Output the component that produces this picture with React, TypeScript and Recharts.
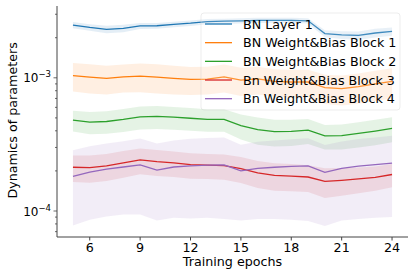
import React from 'react';
import { ComposedChart, Line, Area, XAxis, YAxis } from 'recharts';

const epochs = [5, 6, 7, 8, 9, 10, 11, 12, 13, 14, 15, 16, 17, 18, 19, 20, 21, 22, 23, 24];

const seriesNames = [
  'BN Layer 1',
  'BN Weight&Bias Block 1',
  'BN Weight&Bias Block 2',
  'Bn Weight&Bias Block 3',
  'Bn Weight&Bias Block 4',
];
const seriesColors = ['#1f77b4', '#ff7f0e', '#2ca02c', '#d62728', '#9467bd'];

// mean and spread per epoch
const layer1Mean = [2.49e-3, 2.39e-3, 2.31e-3, 2.35e-3, 2.45e-3, 2.46e-3, 2.52e-3, 2.57e-3, 2.64e-3, 2.66e-3, 2.68e-3, 2.7e-3, 2.7e-3, 2.7e-3, 2.68e-3, 2.15e-3, 2.1e-3, 2.08e-3, 2.17e-3, 2.23e-3];
const layer1Std = [1.3e-4, 1.3e-4, 1.5e-4, 1.5e-4, 1.3e-4, 1.2e-4, 1.2e-4, 1.2e-4, 1.2e-4, 1.2e-4, 1.2e-4, 1.2e-4, 1.2e-4, 1.2e-4, 1.2e-4, 1.3e-4, 1.4e-4, 1.5e-4, 1.6e-4, 1.6e-4];

const block1Mean = [1.04e-3, 1.012e-3, 0.99e-3, 1.017e-3, 1.03e-3, 1.012e-3, 0.99e-3, 0.973e-3, 0.978e-3, 1.017e-3, 0.96e-3, 0.98e-3, 0.94e-3, 0.93e-3, 0.93e-3, 0.845e-3, 0.83e-3, 0.858e-3, 0.9e-3, 0.94e-3];
const block1Std = [2.5e-4, 2.5e-4, 2.4e-4, 2.4e-4, 2.5e-4, 2.5e-4, 2.4e-4, 2.3e-4, 2.3e-4, 2.4e-4, 2.3e-4, 2.3e-4, 2.2e-4, 2.2e-4, 2.2e-4, 2.1e-4, 2.1e-4, 2.2e-4, 2.3e-4, 2.4e-4];

const block2Mean = [4.81e-4, 4.65e-4, 4.7e-4, 4.87e-4, 5.09e-4, 5.13e-4, 5.06e-4, 4.97e-4, 4.87e-4, 4.87e-4, 4.37e-4, 4.09e-4, 3.95e-4, 3.96e-4, 4.05e-4, 3.66e-4, 3.68e-4, 3.82e-4, 3.98e-4, 4.17e-4];
const block2Std = [0.86e-4, 0.88e-4, 0.9e-4, 0.95e-4, 1.0e-4, 1.0e-4, 0.98e-4, 0.96e-4, 0.94e-4, 0.93e-4, 0.93e-4, 0.94e-4, 0.9e-4, 0.88e-4, 0.86e-4, 0.76e-4, 0.78e-4, 0.82e-4, 0.86e-4, 0.89e-4];

const block3Mean = [2.13e-4, 2.12e-4, 2.18e-4, 2.3e-4, 2.42e-4, 2.35e-4, 2.3e-4, 2.23e-4, 2.21e-4, 2.19e-4, 2.08e-4, 1.93e-4, 1.85e-4, 1.83e-4, 1.8e-4, 1.67e-4, 1.7e-4, 1.74e-4, 1.79e-4, 1.88e-4];
const block3Std = [0.48e-4, 0.49e-4, 0.5e-4, 0.52e-4, 0.53e-4, 0.52e-4, 0.5e-4, 0.48e-4, 0.47e-4, 0.47e-4, 0.46e-4, 0.44e-4, 0.43e-4, 0.42e-4, 0.41e-4, 0.42e-4, 0.4e-4, 0.38e-4, 0.37e-4, 0.37e-4];

const block4Mean = [1.82e-4, 1.96e-4, 2.06e-4, 2.14e-4, 2.22e-4, 2.03e-4, 2.14e-4, 2.18e-4, 2.21e-4, 2.22e-4, 2.0e-4, 2.09e-4, 2.13e-4, 2.16e-4, 2.18e-4, 1.95e-4, 2.09e-4, 2.17e-4, 2.23e-4, 2.29e-4];
const block4Std = [1.04e-4, 1.1e-4, 1.15e-4, 1.2e-4, 1.28e-4, 1.18e-4, 1.25e-4, 1.3e-4, 1.32e-4, 1.35e-4, 1.15e-4, 1.22e-4, 1.26e-4, 1.3e-4, 1.34e-4, 1.18e-4, 1.24e-4, 1.3e-4, 1.34e-4, 1.39e-4];

const xTicks = [6, 9, 12, 15, 18, 21, 24];
const yTicks = [7e-5, 8e-5, 9e-5, 1e-4, 2e-4, 3e-4, 4e-4, 5e-4, 6e-4, 7e-4, 8e-4, 9e-4, 1e-3, 2e-3, 3e-3];

const means = [layer1Mean, block1Mean, block2Mean, block3Mean, block4Mean];
const stds = [layer1Std, block1Std, block2Std, block3Std, block4Std];

const data = epochs.map((epoch, i) => {
  const row: Record<string, number | number[]> = { epoch };
  means.forEach((m, s) => {
    row[`m${s}`] = m[i];
    row[`b${s}`] = [m[i] - stds[s][i], m[i] + stds[s][i]];
  });
  return row;
});

const FONT = '"DejaVu Sans", sans-serif';
const AXIS = '#444';

const YTick = (props: any) => {
  const { x, y, payload } = props;
  const lg = Math.log10(payload.value);
  const exp = Math.round(lg);
  const major = Math.abs(lg - exp) < 1e-6;
  return (
    <g>
      <line x1={x - (major ? 3.5 : 2)} x2={x} y1={y} y2={y} stroke={AXIS} strokeWidth={0.8} />
      {major && (
        <text x={x - 6} y={y + 4.5} textAnchor="end" fontSize={12} fontFamily={FONT} fill="#000">
          <tspan>10</tspan>
          <tspan dy={-5} fontSize={8.5}>{`\u2212${-exp}`}</tspan>
        </text>
      )}
    </g>
  );
};

export default function App() {
  return (
    <div style={{ position: 'absolute', left: 0, top: 0, width: 415, height: 277, background: '#fff' }}>
      <ComposedChart width={415} height={277} data={data} margin={{ top: 6, right: 7, bottom: 0, left: 0 }}>
        <XAxis
          dataKey="epoch"
          type="number"
          domain={[4.05, 24.95]}
          ticks={xTicks}
          interval={0}
          height={40}
          tickSize={3.5}
          stroke={AXIS}
          tick={{ fontSize: 12.7, fill: '#000', fontFamily: FONT }}
        />
        <XAxis xAxisId="top" orientation="top" type="number" domain={[0, 1]} height={0} tick={false} tickLine={false} stroke={AXIS} />
        <YAxis
          type="number"
          scale="log"
          domain={[6.38e-5, 3.46e-3]}
          allowDataOverflow
          ticks={yTicks}
          interval={0}
          width={57}
          tickSize={0}
          tickMargin={0}
          tickLine={false}
          stroke={AXIS}
          tick={<YTick />}
        />
        <YAxis yAxisId="right" orientation="right" type="number" domain={[0, 1]} width={0} tick={false} tickLine={false} stroke={AXIS} />
        {seriesColors.map((c, s) => (
          <Area
            key={`b${s}`}
            dataKey={`b${s}`}
            type="linear"
            stroke="none"
            fill={c}
            fillOpacity={0.12}
            isAnimationActive={false}
          />
        ))}
        {seriesColors.map((c, s) => (
          <Line
            key={`m${s}`}
            dataKey={`m${s}`}
            type="linear"
            stroke={c}
            strokeWidth={1.3}
            dot={false}
            isAnimationActive={false}
          />
        ))}
      </ComposedChart>
      <svg width={415} height={277} style={{ position: 'absolute', left: 0, top: 0, pointerEvents: 'none' }}>
        <rect x={201} y={13} width={199} height={97} rx={3} fill="#fff" fillOpacity={0.15} stroke="#ccc" strokeOpacity={0.35} />
        {seriesNames.map((name, i) => {
          const cy = 24 + i * 18.67;
          return (
            <g key={name}>
              <line x1={205} x2={232} y1={cy} y2={cy} stroke={seriesColors[i]} strokeWidth={1.3} />
              <text x={243} y={cy + 4.6} fontSize={12.7} fontFamily={FONT} fill="#000">
                {name}
              </text>
            </g>
          );
        })}
        <text x={232.5} y={266} textAnchor="middle" fontSize={12.7} fontFamily={FONT} fill="#000">
          Training epochs
        </text>
        <text
          x={17}
          y={120.4}
          transform="rotate(-90 17 120.4)"
          textAnchor="middle"
          fontSize={12.7}
          fontFamily={FONT}
          fill="#000"
        >
          Dynamics of parameters
        </text>
      </svg>
    </div>
  );
}
